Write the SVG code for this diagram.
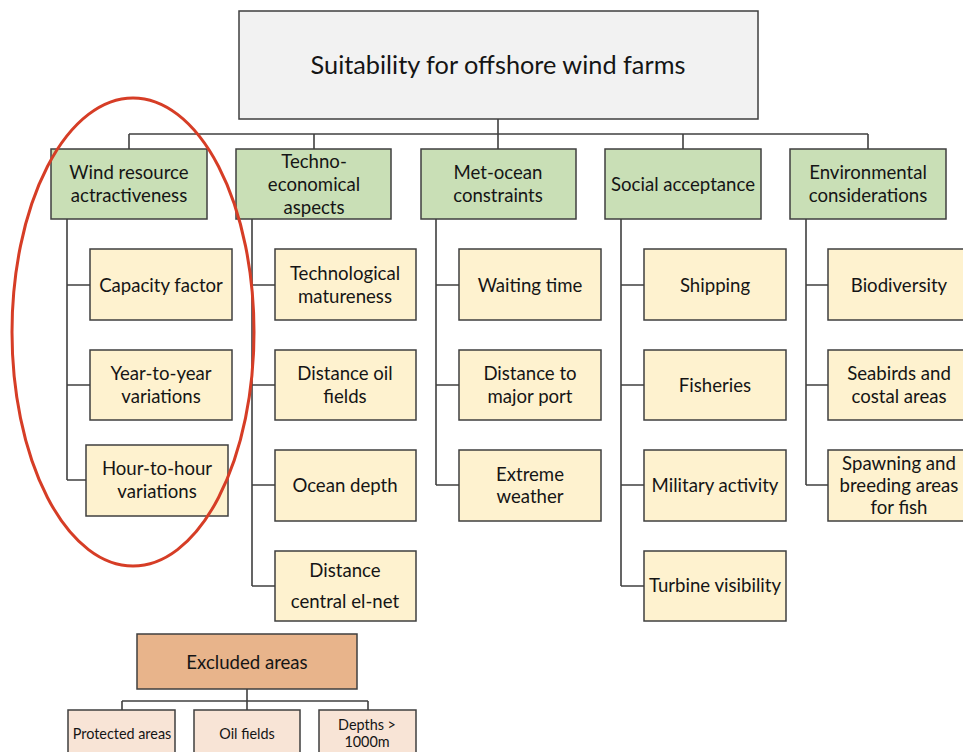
<svg xmlns="http://www.w3.org/2000/svg" width="963" height="752" viewBox="0 0 963 752">
<style>
  .box{stroke:#3f3f3f;stroke-width:1.5}
  .root{fill:#f2f2f2}
  .cat{fill:#c9dfb6}
  .sub{fill:#fef2cf}
  .exc{fill:#e8b48b}
  .excs{fill:#f8e4d6}
  text{font-family:"Lato","Open Sans",sans-serif;fill:#151515;text-anchor:middle;dominant-baseline:central}
  .t1{font-size:25.3px}
  .t2{font-size:18.6px}
  .t3{font-size:14.4px}
  .conn{stroke:#404040;stroke-width:1.6;fill:none}
</style>
<rect width="963" height="752" fill="#ffffff"/>
<g id="connectors" class="conn">
  <path d="M498 119V134M129 134H868M129 134V149M314 134V149M498 134V149M683 134V149M868 134V149"/>
  <path d="M67 219V480M67 285H90M67 385H90M67 480H86"/>
  <path d="M252 219V586M252 285H275M252 385H275M252 485H275M252 586H275"/>
  <path d="M436 219V485M436 285H459M436 385H459M436 485H459"/>
  <path d="M621 219V586M621 285H644M621 385H644M621 485H644M621 586H644"/>
  <path d="M806 219V485M806 285H828M806 385H828M806 485H828"/>
  <path d="M247 689V701M122 701H368M122 701V710M247 701V710M368 701V710"/>
</g>
<g id="root"><rect class="box root" x="239" y="11" width="519" height="108"/><text class="t1" x="498" y="64">Suitability for offshore wind farms</text></g>
<g id="wind"><rect class="box cat" x="51" y="149" width="156" height="70"/><text class="t2" x="129" y="172">Wind resource</text><text class="t2" x="129" y="195">actractiveness</text></g>
<g id="techno"><rect class="box cat" x="236" y="149" width="155" height="70"/><text class="t2" x="314" y="161">Techno-</text><text class="t2" x="314" y="184">economical</text><text class="t2" x="314" y="207">aspects</text></g>
<g id="metocean"><rect class="box cat" x="421" y="149" width="155" height="70"/><text class="t2" x="498" y="172">Met-ocean</text><text class="t2" x="498" y="195">constraints</text></g>
<g id="social"><rect class="box cat" x="605" y="149" width="156" height="70"/><text class="t2" x="683" y="184">Social acceptance</text></g>
<g id="env"><rect class="box cat" x="790" y="149" width="156" height="70"/><text class="t2" x="868" y="172">Environmental</text><text class="t2" x="868" y="195">considerations</text></g>

<g id="capacity"><rect class="box sub" x="90" y="249" width="142" height="71"/><text class="t2" x="161" y="285">Capacity factor</text></g>
<g id="yeartoyear"><rect class="box sub" x="90" y="350" width="142" height="70"/><text class="t2" x="161" y="373">Year-to-year</text><text class="t2" x="161" y="396">variations</text></g>
<g id="hourtohour"><rect class="box sub" x="86" y="445" width="142" height="71"/><text class="t2" x="157" y="468">Hour-to-hour</text><text class="t2" x="157" y="491">variations</text></g>

<g id="techmat"><rect class="box sub" x="275" y="249" width="141" height="71"/><text class="t2" x="345" y="273">Technological</text><text class="t2" x="345" y="296">matureness</text></g>
<g id="distoil"><rect class="box sub" x="275" y="350" width="141" height="70"/><text class="t2" x="345" y="373">Distance oil</text><text class="t2" x="345" y="396">fields</text></g>
<g id="oceandepth"><rect class="box sub" x="275" y="450" width="141" height="71"/><text class="t2" x="345" y="485">Ocean depth</text></g>
<g id="distelnet"><rect class="box sub" x="275" y="551" width="141" height="70"/><text class="t2" x="345" y="570">Distance</text><text class="t2" x="345" y="601">central el-net</text></g>

<g id="waiting"><rect class="box sub" x="459" y="249" width="142" height="71"/><text class="t2" x="530" y="285">Waiting time</text></g>
<g id="distport"><rect class="box sub" x="459" y="350" width="142" height="70"/><text class="t2" x="530" y="373">Distance to</text><text class="t2" x="530" y="396">major port</text></g>
<g id="extreme"><rect class="box sub" x="459" y="450" width="142" height="71"/><text class="t2" x="530" y="474">Extreme</text><text class="t2" x="530" y="496">weather</text></g>

<g id="shipping"><rect class="box sub" x="644" y="249" width="142" height="71"/><text class="t2" x="715" y="285">Shipping</text></g>
<g id="fisheries"><rect class="box sub" x="644" y="350" width="142" height="70"/><text class="t2" x="715" y="385">Fisheries</text></g>
<g id="military"><rect class="box sub" x="644" y="450" width="142" height="71"/><text class="t2" x="715" y="485">Military activity</text></g>
<g id="turbine"><rect class="box sub" x="644" y="551" width="142" height="70"/><text class="t2" x="715" y="585">Turbine visibility</text></g>

<g id="biodiversity"><rect class="box sub" x="828" y="249" width="142" height="71"/><text class="t2" x="899" y="285">Biodiversity</text></g>
<g id="seabirds"><rect class="box sub" x="828" y="350" width="142" height="70"/><text class="t2" x="899" y="373">Seabirds and</text><text class="t2" x="899" y="396">costal areas</text></g>
<g id="spawning"><rect class="box sub" x="828" y="450" width="142" height="71"/><text class="t2" x="899" y="463">Spawning and</text><text class="t2" x="899" y="485">breeding areas</text><text class="t2" x="899" y="507">for fish</text></g>

<g id="excluded"><rect class="box exc" x="137" y="634" width="220" height="55"/><text class="t2" x="247" y="662">Excluded areas</text></g>
<g id="protected"><rect class="box excs" x="68" y="710" width="107" height="50"/><text class="t3" x="122" y="733">Protected areas</text></g>
<g id="oilfields"><rect class="box excs" x="194" y="710" width="106" height="50"/><text class="t3" x="247" y="733">Oil fields</text></g>
<g id="depths"><rect class="box excs" x="319" y="710" width="97" height="50"/><text class="t3" x="367" y="724">Depths &gt;</text><text class="t3" x="367" y="741">1000m</text></g>

<ellipse cx="133" cy="332" rx="121" ry="234" fill="none" stroke="#d63d26" stroke-width="3"/>
</svg>
